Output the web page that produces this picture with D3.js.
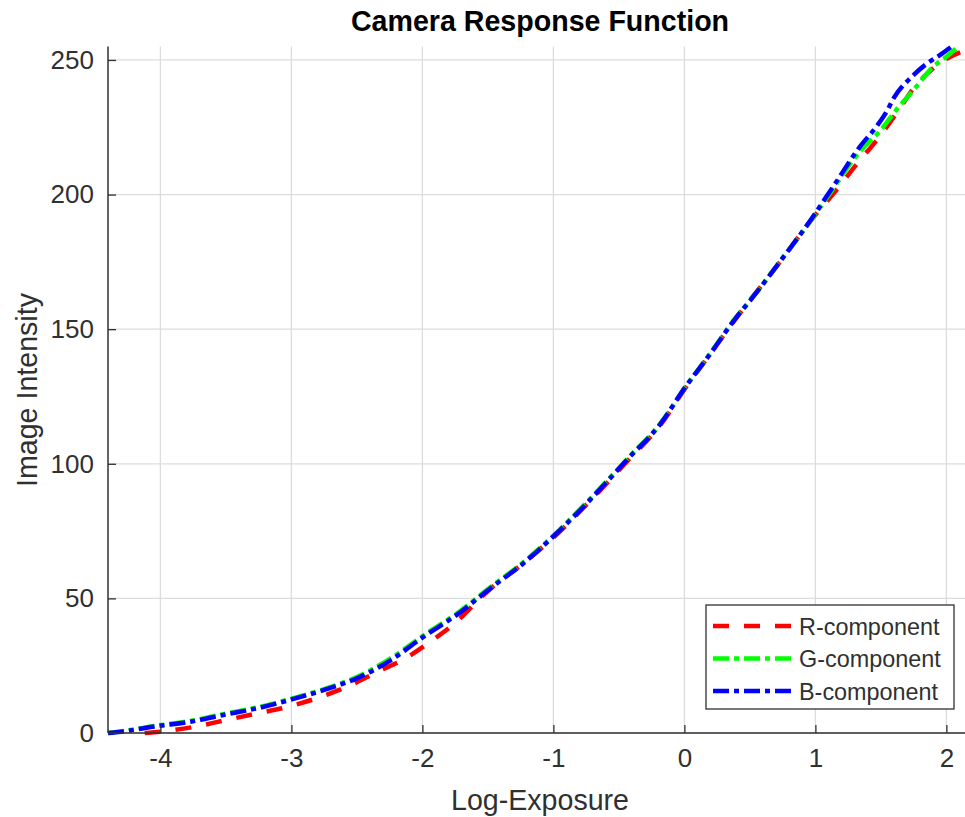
<!DOCTYPE html>
<html><head><meta charset="utf-8">
<script src="https://cdn.jsdelivr.net/npm/d3@7"></script>
<style>
html,body{margin:0;padding:0;background:#fff;}
svg{display:block;font-family:"Liberation Sans",Arial,Helvetica,sans-serif;}
</style></head>
<body><svg id="chart" width="965" height="817"></svg>
<script>
const title = "Camera Response Function";
const xLabel = "Log-Exposure";
const yLabel = "Image Intensity";
const xTicks = [-4, -3, -2, -1, 0, 1, 2];
const yTicks = [0, 50, 100, 150, 200, 250];
const seriesNames = ["R-component", "G-component", "B-component"];
const seriesColors = ["#ff0000", "#00ff00", "#0000ff"];

const redLogE = [-4.12, -4.0, -3.74, -3.5, -3.26, -3.02, -2.79, -2.56, -2.34, -2.13, -1.94, -1.74, -1.56, -1.48, -1.23, -1.0, -0.72, -0.44, -0.18, 0.0, 0.2, 0.4, 0.73, 0.96, 1.17, 1.32, 1.47, 1.62, 1.75, 1.95, 2.12, 2.2];
const redVal  = [0, 0.5, 2.3, 4.8, 7.3, 9.8, 13.2, 17.5, 22.8, 27.7, 33.9, 41.3, 50, 53.6, 63, 72.6, 86.2, 100.8, 114.6, 127.6, 141, 154.4, 175, 190, 202.3, 211.6, 220.3, 230.3, 239.5, 248.8, 253.1, 254];

const greenLogE = [-4.4, -4.3, -4.03, -3.77, -3.52, -3.26, -3.01, -2.75, -2.5, -2.24, -1.99, -1.74, -1.48, -1.23, -1.0, -0.72, -0.44, -0.18, 0.0, 0.2, 0.4, 0.5, 0.73, 0.96, 1.09, 1.34, 1.5, 1.62, 1.75, 1.9, 2.0, 2.09];
const greenVal  = [0, 0.6, 2.7, 4.5, 7.0, 9.5, 12.6, 16.3, 20.8, 27.8, 36.3, 44.3, 54.2, 63.4, 73.3, 87, 101.6, 115.2, 128, 141.2, 154.8, 160.6, 175.2, 190, 199, 216, 224, 231.6, 238.9, 247.5, 251.2, 255];

const blueLogE = [-4.4, -4.3, -4.03, -3.77, -3.52, -3.26, -3.01, -2.75, -2.5, -2.24, -1.99, -1.74, -1.48, -1.23, -1.0, -0.72, -0.44, -0.18, 0.0, 0.2, 0.4, 0.5, 0.73, 0.96, 1.14, 1.34, 1.47, 1.54, 1.6, 1.73, 1.85, 1.95, 2.04];
const blueVal  = [0, 0.5, 2.5, 4.2, 6.7, 9.2, 12.3, 16, 20.3, 27.1, 35.8, 43.8, 53.8, 63, 73, 86.6, 101.4, 115, 128, 141, 154.6, 160.5, 175.1, 190.3, 203.3, 217.8, 225.5, 230.5, 236, 243.5, 248.6, 251.8, 255];

const series = [
  {name: seriesNames[0], color: seriesColors[0], dash: "16,15", xs: redLogE, ys: redVal},
  {name: seriesNames[1], color: seriesColors[1], dash: "16,5,5,5", xs: greenLogE, ys: greenVal},
  {name: seriesNames[2], color: seriesColors[2], dash: "16,5,5,5", xs: blueLogE, ys: blueVal}
];

const svg = d3.select("#chart");
const L = 108, T = 46.5, R = 972.6, B = 733;
const x = d3.scaleLinear().domain([-4.4, 2.2]).range([L, R]);
const y = d3.scaleLinear().domain([0, 255]).range([B, T]);
const ink = "#303030";

// grid
const grid = svg.append("g");
grid.selectAll("line.gx").data(xTicks).enter().append("line")
  .attr("x1", d => x(d)).attr("x2", d => x(d)).attr("y1", T).attr("y2", B)
  .attr("stroke", "#dcdcdc").attr("stroke-width", 1.3);
grid.selectAll("line.gy").data(yTicks).enter().append("line")
  .attr("x1", L).attr("x2", R).attr("y1", d => y(d)).attr("y2", d => y(d))
  .attr("stroke", "#dcdcdc").attr("stroke-width", 1.3);

// curves
const plot = svg.append("g");
const line = d3.line().x(d => x(d[0])).y(d => y(d[1])).curve(d3.curveMonotoneX);
series.forEach(s => {
  const pts = s.xs.map((v, i) => [v, s.ys[i]]);
  plot.append("path").datum(pts).attr("d", line)
    .attr("fill", "none").attr("stroke", s.color).attr("stroke-width", 4.5)
    .attr("stroke-dasharray", s.dash);
});

// axes
const xAxis = d3.axisBottom(x).tickValues(xTicks).tickSize(-8).tickPadding(16).tickFormat(d3.format("d"));
const yAxis = d3.axisLeft(y).tickValues(yTicks).tickSize(-8).tickPadding(14).tickFormat(d3.format("d"));
const gx = svg.append("g").attr("transform", `translate(0,${B})`).call(xAxis);
const gy = svg.append("g").attr("transform", `translate(${L},0)`).call(yAxis);
[gx, gy].forEach(g => {
  g.select(".domain").attr("stroke", ink).attr("stroke-width", 1.5);
  g.selectAll(".tick line").attr("stroke", ink).attr("stroke-width", 1.3);
  g.selectAll(".tick text").attr("fill", ink).attr("font-size", 26)
    .attr("font-family", "'Liberation Sans',Arial,sans-serif");
});
gx.selectAll(".tick text").text(d => d < 0 ? "-" + Math.abs(d) : d);
gx.select(".domain").attr("d", `M${L},0H${R}`);
gy.select(".domain").attr("d", `M0,${B}V${T}`);

// labels
svg.append("text").attr("x", 540).attr("y", 31).attr("text-anchor", "middle")
  .attr("font-size", 28.6).attr("font-weight", "bold").attr("fill", "#000").text(title);
svg.append("text").attr("x", 540).attr("y", 810).attr("text-anchor", "middle")
  .attr("font-size", 28.6).attr("fill", ink).text(xLabel);
svg.append("text").attr("transform", "translate(37,390) rotate(-90)").attr("text-anchor", "middle")
  .attr("font-size", 28.6).attr("fill", ink).text(yLabel);

// legend
const lg = svg.append("g");
lg.append("rect").attr("x", 706).attr("y", 605).attr("width", 248).attr("height", 104)
  .attr("fill", "#fff").attr("stroke", ink).attr("stroke-width", 1.3);
series.forEach((s, i) => {
  const cy = 626 + i * 32.5;
  lg.append("line").attr("x1", 713).attr("x2", 793).attr("y1", cy).attr("y2", cy)
    .attr("stroke", s.color).attr("stroke-width", 4.5).attr("stroke-dasharray", s.dash);
  lg.append("text").attr("x", 799).attr("y", cy + 8.5).attr("font-size", 23.4)
    .attr("fill", ink).text(s.name);
});
</script></body></html>
